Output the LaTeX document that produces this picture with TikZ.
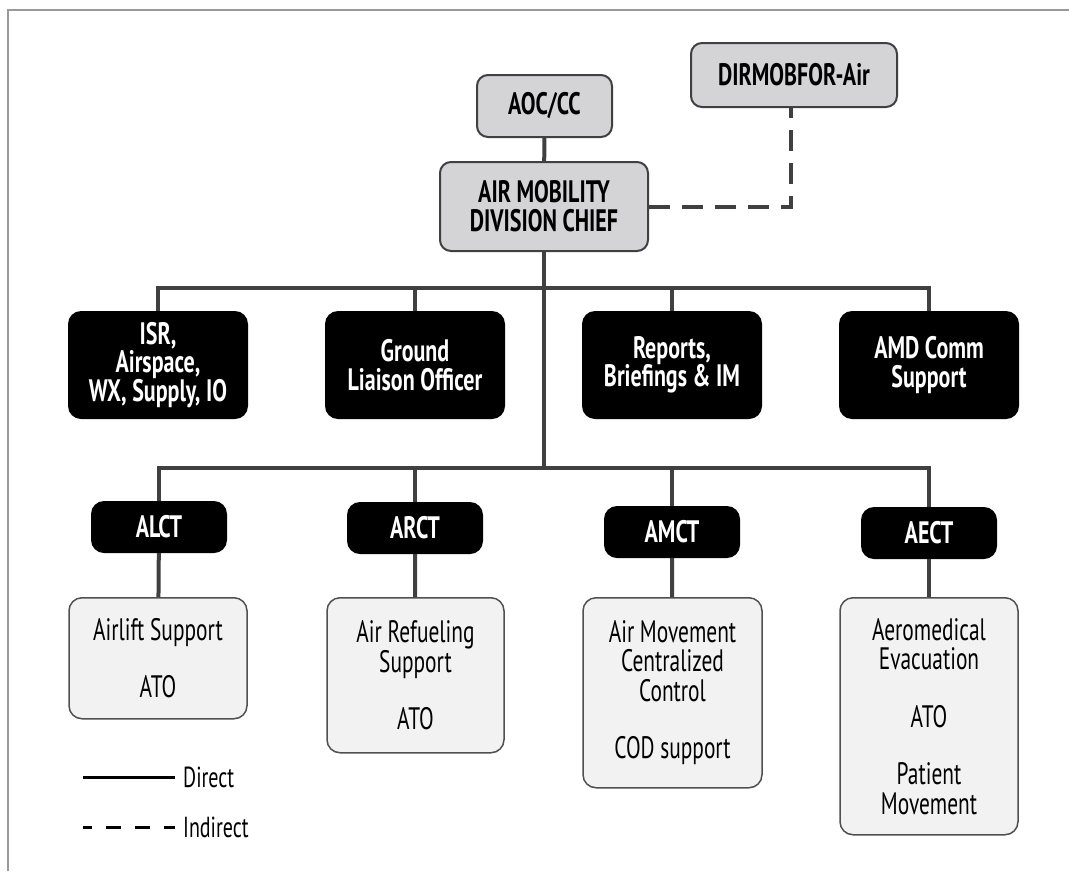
\documentclass[tikz,border=0pt]{standalone}
\usepackage{fontspec}
\setmainfont{PT Sans}[FakeStretch=0.69]
\newfontfamily\headfont{PT Sans}[FakeStretch=0.71]
\definecolor{linec}{HTML}{404040}
\definecolor{boxgray}{HTML}{D4D4D6}
\definecolor{leaffill}{HTML}{F2F2F2}
\definecolor{leafline}{HTML}{505050}
\definecolor{framec}{HTML}{999999}
\tikzset{
  conn/.style={draw=linec, line width=4pt},
  topbox/.style={draw=linec, line width=2pt, fill=boxgray, rounded corners=11pt,
    font=\headfont\bfseries\fontsize{31}{29}\selectfont, align=center, inner sep=0pt},
  blackbox/.style={fill=black, rounded corners=13pt, text=white,
    font=\headfont\bfseries\fontsize{31}{28.5}\selectfont, align=center, inner sep=0pt},
  teambox/.style={blackbox, minimum width=136pt, minimum height=52pt},
  unitbox/.style={blackbox, minimum width=180pt, minimum height=108pt},
  leafbox/.style={draw=leafline, line width=1.5pt, fill=leaffill, rounded corners=13pt,
    font=\fontsize{31}{29.5}\selectfont, align=center, inner sep=0pt, anchor=north},
  legendtext/.style={anchor=west, inner sep=0pt, font=\fontsize{29}{30}\selectfont}
}
\begin{document}
\begin{tikzpicture}[x=1pt,y=-1pt]
\useasboundingbox (0,0) rectangle (1069,871);
% page frame
\draw[framec, line width=2pt] (8,871) -- (8,9.5) -- (1069,9.5);

% command level
\node[topbox, minimum width=135pt, minimum height=62pt] (aoc) at (544.5,106) {AOC/CC};
\node[topbox, minimum width=208pt, minimum height=89pt] (amd) at (544,206.5) {AIR MOBILITY\\DIVISION CHIEF};
\node[topbox, minimum width=206pt, minimum height=64pt] (dir) at (794,75) {DIRMOBFOR-Air};

% staff elements
\node[unitbox] (isr) at (158,365) {ISR,\\Airspace,\\WX, Supply, IO};
\node[unitbox] (glo) at (415,365) {Ground\\Liaison Officer};
\node[unitbox] (rep) at (672,365) {Reports,\\Briefings \& IM};
\node[unitbox] (comm) at (929,365) {AMD Comm\\Support};

% teams
\node[teambox] (alct) at (159,527) {ALCT};
\node[teambox] (arct) at (415,528) {ARCT};
\node[teambox] (amct) at (672,532) {AMCT};
\node[teambox] (aect) at (929,533) {AECT};

% team functions
\node[leafbox, minimum width=178pt, minimum height=121pt] (lift) at (158,597)
  {Airlift Support\\[28pt]ATO};
\node[leafbox, minimum width=177pt, minimum height=155pt] (fuel) at (415.5,597)
  {Air Refueling\\Support\\[28pt]ATO};
\node[leafbox, minimum width=179pt, minimum height=190pt] (move) at (672.5,597)
  {Air Movement\\Centralized\\Control\\[28pt]COD support};
\node[leafbox, minimum width=178pt, minimum height=237pt] (evac) at (929,597)
  {Aeromedical\\Evacuation\\[28pt]ATO\\[28pt]Patient\\Movement};

% bus junctions
\coordinate (b1) at (544,288);
\coordinate (b2) at (544,468);

% direct lines
\draw[conn] (aoc) -- (amd);
\draw[conn] (amd.south) -- (b2);
\draw[conn] (isr.north) |- (b1) -| (comm.north);
\draw[conn] (glo.north) -- (glo.north |- b1);
\draw[conn] (rep.north) -- (rep.north |- b1);
\draw[conn] (alct.north) |- (b2) -| (aect.north);
\draw[conn] (arct.north) -- (arct.north |- b2);
\draw[conn] (amct.north) -- (amct.north |- b2);
\draw[conn] (alct) -- (lift);
\draw[conn] (arct) -- (fuel);
\draw[conn] (amct) -- (move);
\draw[conn] (aect) -- (evac);

% indirect line
\draw[conn, dash pattern=on 21pt off 12pt] (amd.east) -| ([xshift=-3pt]dir.south);

% legend
\coordinate (ls1) at (83,777);
\coordinate (ls2) at (175,777);
\coordinate (ld1) at (83,827);
\coordinate (ld2) at (175,827);
\draw[line width=3pt] (ls1) -- (ls2);
\draw[line width=3pt, dash pattern=on 15pt off 14pt, dash phase=6pt] (ld1) -- (ld2);
\node[legendtext] (ltd) at ([xshift=8pt]ls2) {Direct};
\node[legendtext] (lti) at ([xshift=8pt]ld2) {Indirect};
\end{tikzpicture}
\end{document}
